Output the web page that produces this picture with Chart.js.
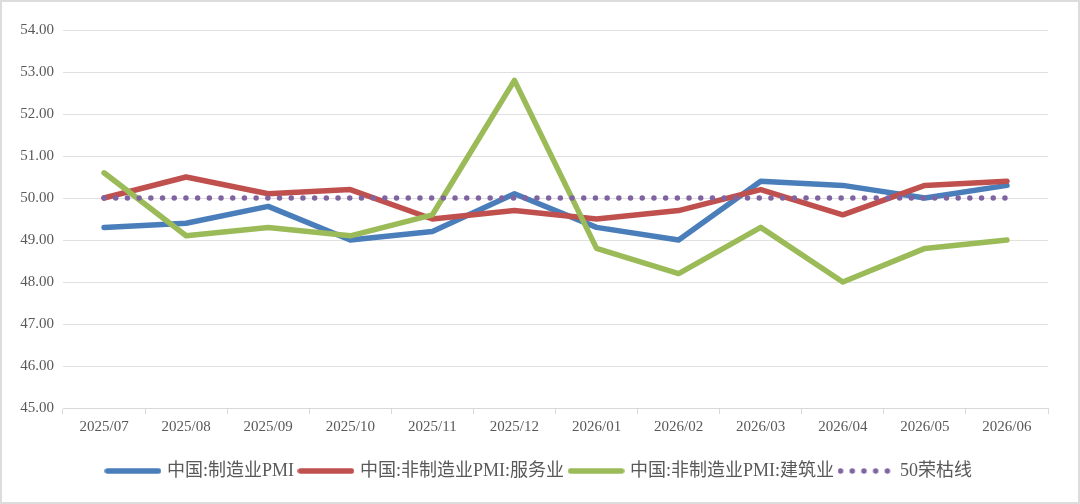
<!DOCTYPE html>
<html>
<head>
<meta charset="utf-8">
<script src="https://cdn.jsdelivr.net/npm/chart.js@4/dist/chart.umd.min.js"></script>
<style>
  html, body { margin: 0; padding: 0; background: #fff; }
  #wrap { position: relative; width: 1080px; height: 504px; }
  #frame { position: absolute; left: 0; top: 0; width: 1080px; height: 504px; box-sizing: border-box; border: 2px solid #dcdcdc; pointer-events: none; }
  canvas#c { position: absolute; left: 0; top: 0; }
</style>
</head>
<body>
<div id="wrap">
  <canvas id="c" width="1080" height="504"></canvas>
  <div id="frame"></div>
</div>
<script>
const categories = ['2025/07','2025/08','2025/09','2025/10','2025/11','2025/12','2026/01','2026/02','2026/03','2026/04','2026/05','2026/06'];
const manufacturingPMI = [49.3, 49.4, 49.8, 49.0, 49.2, 50.1, 49.3, 49.0, 50.4, 50.3, 50.0, 50.3];
const servicesPMI = [50.0, 50.5, 50.1, 50.2, 49.5, 49.7, 49.5, 49.7, 50.2, 49.6, 50.3, 50.4];
const constructionPMI = [50.6, 49.1, 49.3, 49.1, 49.6, 52.8, 48.8, 48.2, 49.3, 48.0, 48.8, 49.0];
const boomBust = [50, 50, 50, 50, 50, 50, 50, 50, 50, 50, 50, 50];
const seriesNames = ['中国:制造业PMI', '中国:非制造业PMI:服务业', '中国:非制造业PMI:建筑业', '50荣枯线'];
const seriesColors = ['#4a7ebb', '#c0504d', '#9bbb59', '#8064a2'];

const serif = "'Liberation Serif', 'Times New Roman', 'Noto Sans CJK SC', serif";
const LW = 5.5;
const DOT_GAP = 11.7;
const LEG_IMG_W = 57;   // drawn swatch width
const LEG_BOX_W = 50;   // width reserved by legend layout

// legend swatch images (solid line or dotted line)
function swatch(color, dotted) {
  const cv = document.createElement('canvas');
  cv.width = LEG_IMG_W; cv.height = 8;
  const ctx = cv.getContext('2d');
  ctx.strokeStyle = color;
  ctx.lineWidth = LW;
  ctx.lineCap = 'round';
  if (dotted) ctx.setLineDash([0, DOT_GAP]);
  ctx.beginPath();
  ctx.moveTo(3, 4);
  ctx.lineTo(LEG_IMG_W - 3, 4);
  ctx.stroke();
  return cv;
}

const lineCommon = { borderWidth: LW, pointRadius: 0, pointHoverRadius: 0, borderCapStyle: 'round', borderJoinStyle: 'round', tension: 0, fill: false };

function ds(i, data, order, dotted) {
  const d = Object.assign({}, lineCommon, {
    label: seriesNames[i], data: data,
    borderColor: seriesColors[i], backgroundColor: seriesColors[i],
    pointStyle: swatch(seriesColors[i], dotted), order: order
  });
  if (dotted) d.borderDash = [0, DOT_GAP];
  return d;
}

// centre the legend on the plot area rather than on the whole canvas
const legendShift = {
  id: 'legendShift',
  afterLayout(chart) {
    const lg = chart.legend;
    if (lg) { lg.left += 16; lg.right += 16; }
  }
};

new Chart(document.getElementById('c'), {
  type: 'line',
  data: {
    labels: categories,
    datasets: [
      ds(0, manufacturingPMI, 4, false),
      ds(1, servicesPMI, 3, false),
      ds(2, constructionPMI, 2, false),
      ds(3, boomBust, 1, true)
    ]
  },
  plugins: [legendShift],
  options: {
    responsive: false,
    animation: false,
    layout: { padding: { top: 30, right: 32, bottom: 14, left: 0 } },
    plugins: {
      tooltip: { enabled: false },
      legend: {
        position: 'bottom',
        labels: {
          usePointStyle: true,
          pointStyleWidth: LEG_BOX_W,
          padding: 7,
          color: '#595959',
          font: { family: serif, size: 18 },
          sort: (a, b) => a.datasetIndex - b.datasetIndex
        }
      }
    },
    scales: {
      x: {
        offset: true,
        grid: { display: true, drawOnChartArea: false, drawTicks: true, tickLength: 6, color: '#d9d9d9', offset: true },
        border: { display: true, color: '#d9d9d9', width: 1 },
        ticks: { color: '#595959', font: { family: serif, size: 15 }, padding: 4, maxRotation: 0, autoSkip: false },
        afterFit: (s) => { s.height = 47; }
      },
      y: {
        min: 45,
        max: 54,
        grid: { color: '#e0e0e0', lineWidth: 1, drawTicks: false },
        border: { display: false },
        ticks: { stepSize: 1, color: '#595959', font: { family: serif, size: 15 }, padding: 9, callback: (v) => Number(v).toFixed(2) },
        afterFit: (s) => { s.width = 63; }
      }
    }
  }
});
</script>
</body>
</html>
